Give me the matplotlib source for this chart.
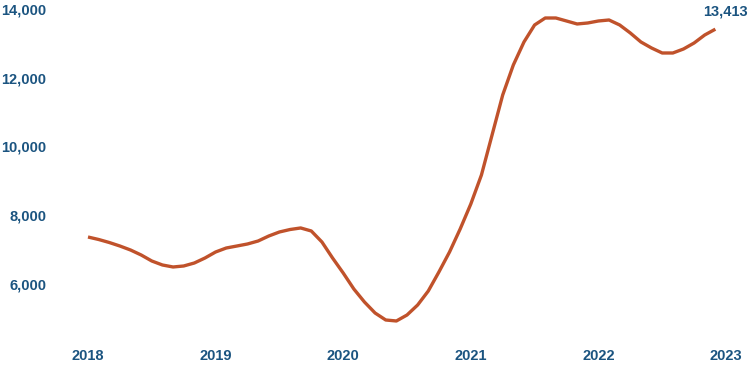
import matplotlib
matplotlib.use("Agg")
import matplotlib.pyplot as plt
from matplotlib.ticker import FuncFormatter
import numpy as np

# Monthly values Jan 2018 - Dec 2022
values = [7367, 7295, 7207, 7105, 6989, 6844, 6669, 6553, 6495, 6524, 6611, 6756,
          6931, 7047, 7105, 7164, 7251, 7396, 7513, 7585, 7630, 7542, 7222, 6756,
          6320, 5855, 5476, 5156, 4953, 4924, 5098, 5389, 5796, 6349, 6931, 7600,
          8327, 9171, 10335, 11498, 12371, 13040, 13535, 13738, 13738, 13651, 13564, 13593,
          13651, 13680, 13535, 13302, 13040, 12865, 12720, 12720, 12836, 13011, 13244, 13413]
start_year = 2018
year_ticks = [2018, 2019, 2020, 2021, 2022, 2023]
y_ticks = [6000, 8000, 10000, 12000, 14000]
end_label = "13,413"

x = [start_year + i / 12 for i in range(len(values))]

LINE = "#c0522b"
TEXT = "#1b5480"
W, H = 750, 375

fig = plt.figure(figsize=(7.5, 3.75), dpi=100)
ax = fig.add_axes([60 / W, 1 - 340 / H, 680 / W, 335 / H])

ax.plot(x, values, color=LINE, linewidth=2.4, solid_capstyle="butt", solid_joinstyle="round")

ax.set_xlim(2017.7806, 2023.1097)
ax.set_ylim(4371, 14116)
ax.set_xticks(year_ticks)
ax.set_xticklabels([str(y) for y in year_ticks])
ax.set_yticks(y_ticks)
ax.yaxis.set_major_formatter(FuncFormatter(lambda v, p: f"{int(v):,}"))

for s in ax.spines.values():
    s.set_visible(False)
ax.tick_params(axis="both", length=0, colors=TEXT, labelsize=10.5)
ax.tick_params(axis="y", pad=10)
ax.tick_params(axis="x", pad=6.5)
for lab in ax.get_xticklabels() + ax.get_yticklabels():
    lab.set_fontweight("bold")
    lab.set_fontfamily("Liberation Sans")

ax.annotate(end_label, xy=(x[-1], values[-1]), xytext=(7, 13), textcoords="offset points",
            ha="center", va="center", color=TEXT, fontsize=10.5, fontweight="bold",
            family="Liberation Sans")

fig.savefig("out.png", dpi=100)
